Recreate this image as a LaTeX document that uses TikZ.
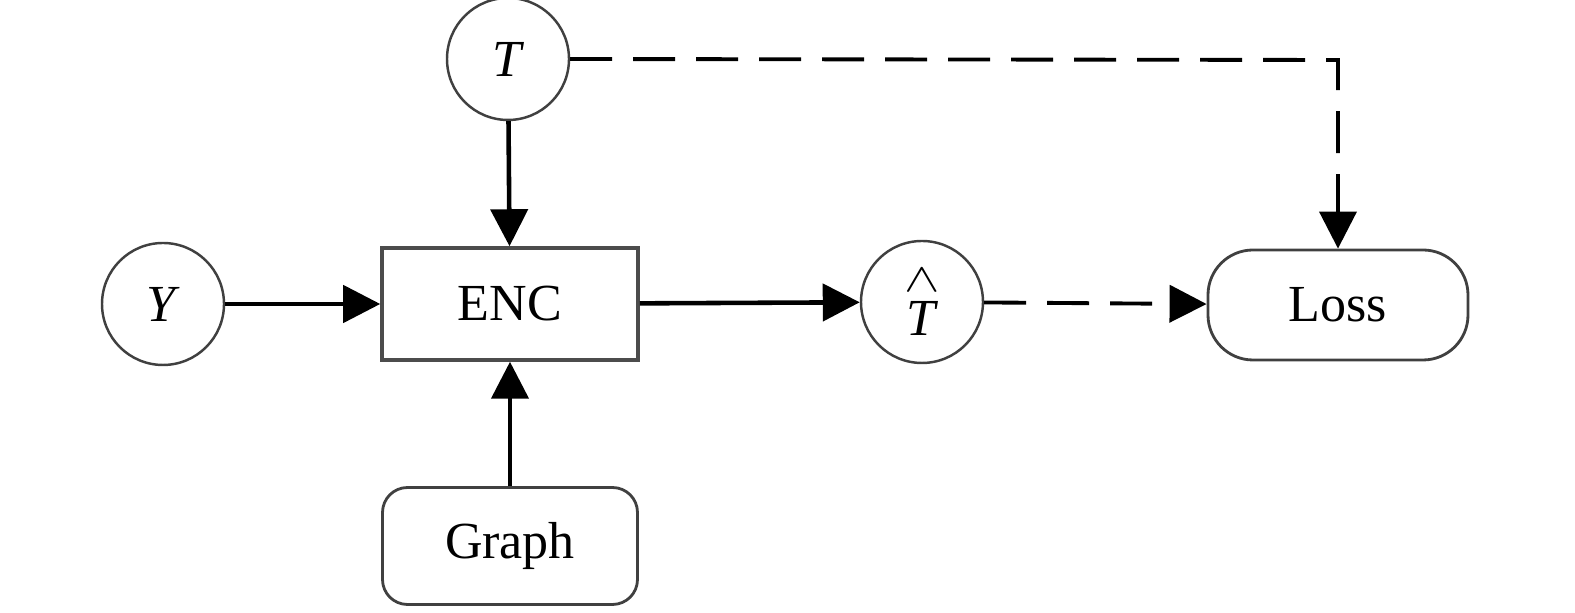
\documentclass[tikz,border=0pt]{standalone}
\usepackage{graphicx}
\usepackage{fontspec}
\setmainfont{Liberation Serif}
\usetikzlibrary{arrows.meta, shapes}

\begin{document}
\begin{tikzpicture}[every node/.style={align=center, font=\fontsize{14.8}{17}\selectfont},
var/.style={draw=black!75, line width=0.7pt, circle, minimum size=1.22cm, inner sep=0pt},
block/.style={draw=black!70, line width=1pt, rectangle, minimum width=2.56cm, minimum height=1.12cm},
soft/.style={draw=black!75, line width=0.8pt, rectangle, rounded corners=0.25cm, minimum width=2.55cm, minimum height=1.17cm},
pill/.style={draw=black!75, line width=0.8pt, rectangle, rounded corners=0.45cm, minimum width=2.6cm, minimum height=1.1cm},
flow/.style={line width=1.3pt, -{Triangle[length=0.37cm, width=0.37cm]}},
guide/.style={line width=1.1pt, dash pattern=on 0.42cm off 0.21cm, -{Triangle[length=0.37cm, width=0.37cm]}}]
\useasboundingbox (0,0) rectangle (15.75,-6.13);
%================================================================
% Nodes
\node[style=var] (T) at (5.08,-0.59) {\textit{T}};
\node[style=var] (Y) at (1.63,-3.04) {\textit{Y}};
\node[style=block] (enc) at (5.10,-3.04) {ENC};
\node[style=var] (Th) at (9.22,-3.02) {\scalebox{1.05}[0.8]{$\wedge$}\\[-0.3em]\textit{T}};
\node[style=pill] (loss) at (13.38,-3.05) {Loss};
\node[style=soft] (graph) at (5.10,-5.46) {Graph};
\coordinate (bend) at (13.38,-0.60);

%================================================================
% Connectors
\draw[style=flow] (T) -- (enc);
\draw[style=flow] (Y) -- (enc);
\draw[style=flow] (graph) -- (enc);
\draw[style=flow] (enc) -- (Th);
\draw[style=guide] (Th) -- (loss);
\draw[style=guide] (T.east) -- (bend) -- (loss.north);

%================================================================
\end{tikzpicture}
\end{document}
